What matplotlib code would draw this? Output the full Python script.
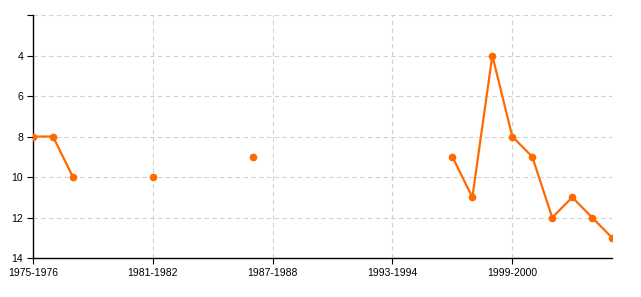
import matplotlib
matplotlib.use("Agg")
import matplotlib.pyplot as plt
import numpy as np

# Seasons on the x axis
seasons = ['%d-%d' % (y, y + 1) for y in range(1975, 2005)]
nan = np.nan
# Position per season (nan = no data)
positions = [8, 8, 10, nan, nan, nan, 10, nan, nan, nan,
             nan, 9, nan, nan, nan, nan, nan, nan, nan, nan,
             nan, 9, 11, 4, 8, 9, 12, 11, 12, 13]
tick_seasons = ['1975-1976', '1981-1982', '1987-1988', '1993-1994', '1999-2000']
y_ticks = [2, 4, 6, 8, 10, 12, 14]

plt.rcParams['font.family'] = ['Liberation Sans', 'DejaVu Sans']

fig = plt.figure(figsize=(6.41, 2.97), dpi=100)
ax = fig.add_axes([0.0515, 0.131, 0.9035, 0.8185])

x = np.arange(len(seasons))
ax.plot(x, positions, color='#ff6a00', lw=1.6, marker='o', ms=4.5, zorder=3)

ax.set_xlim(0, len(seasons) - 1)
ax.set_ylim(14, 2)
ax.set_xticks([seasons.index(s) for s in tick_seasons])
ax.set_xticklabels(tick_seasons)
ax.set_yticks(y_ticks)
ax.set_yticklabels([''] + [str(v) for v in y_ticks[1:]])

ax.grid(True, color='#d0d0d0', ls=(0, (4, 3)), lw=0.8)
ax.set_axisbelow(True)
for s in ('top', 'right'):
    ax.spines[s].set_visible(False)
ax.spines['left'].set_linewidth(1)
ax.spines['bottom'].set_linewidth(1)
ax.tick_params(labelsize=7.5, length=4, width=0.8, pad=3)

plt.savefig('out.png', dpi=100)
plt.close()
